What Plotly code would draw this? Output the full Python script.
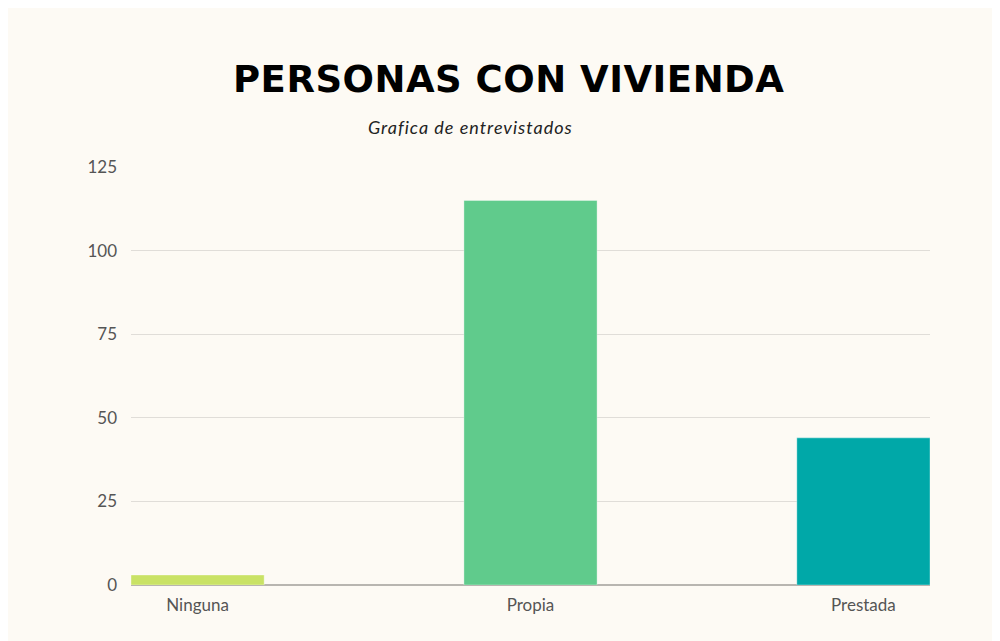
import plotly.graph_objects as go

categories = ["Ninguna", "Propia", "Prestada"]
values = [3, 115, 44]
colors = ["#c9e265", "#60cb8c", "#00a8a8"]
y_ticks = [0, 25, 50, 75, 100, 125]

title_text = "PERSONAS CON VIVIENDA"
subtitle_text = "Grafica de entrevistados"

L, R, T, B = 123, 78, 159, 64
PW, PH = 1000 - L - R, 641 - T - B

fig = go.Figure(
    go.Bar(
        x=categories,
        y=values,
        marker=dict(color=colors, line=dict(color="rgba(255,255,255,0.35)", width=1)),
        width=0.4,
    )
)

fig.update_layout(
    width=1000,
    height=641,
    paper_bgcolor="#fdfaf4",
    plot_bgcolor="#fdfaf4",
    margin=dict(l=L, r=R, t=T, b=B),
    showlegend=False,
    font=dict(family="Lato", color="#555555", size=17),
    annotations=[
        dict(text='<span style="letter-spacing:0.5px">' + title_text + '</span>',
             x=(500 - L) / PW, xref="paper", y=1 + (T - 71) / PH, yref="paper",
             showarrow=False, font=dict(family="DejaVu Sans", size=37, color="#000000", weight="bold"),
             xanchor="center", yanchor="middle"),
        dict(text='<span style="letter-spacing:1px"><i>' + subtitle_text + '</i></span>',
             x=(462 - L) / PW, xref="paper", y=1 + (T - 119) / PH, yref="paper",
             showarrow=False, font=dict(family="Lato", size=18, color="#222222"),
             xanchor="center", yanchor="middle"),
    ],
)

fig.update_xaxes(
    range=[-0.2, 2.2],
    showgrid=False,
    showline=False,
    ticks="",
    ticklabelstandoff=8,
    tickfont=dict(family="Lato", size=17, color="#555555"),
)
fig.update_yaxes(
    range=[0, 125],
    tickvals=y_ticks,
    showgrid=True,
    gridcolor="#e0ddd8",
    gridwidth=1,
    zeroline=True,
    zerolinecolor="#b8b5b0",
    zerolinewidth=1.5,
    ticks="",
    ticklabelstandoff=13,
    tickfont=dict(family="Lato", size=17, color="#555555"),
)

fig.write_html("out.html")
